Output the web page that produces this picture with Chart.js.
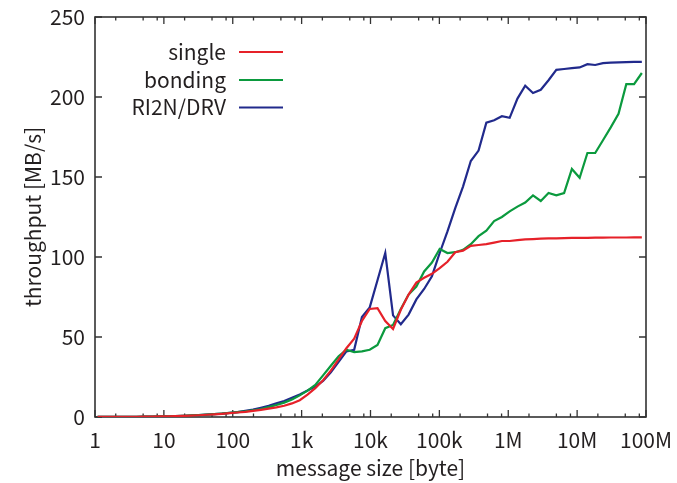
<!DOCTYPE html>
<html>
<head>
<meta charset="utf-8">
<script src="https://cdn.jsdelivr.net/npm/chart.js@4/dist/chart.umd.min.js"></script>
<style>
  html, body { margin: 0; padding: 0; background: #ffffff; }
  #wrap { width: 677px; height: 483px; }
</style>
</head>
<body>
<div id="wrap"><canvas id="chart" width="677" height="483"></canvas></div>
<script>
// message sizes in bytes (steps of 2^(3/8))
const sizes = [
  1.09, 1.41, 1.83, 2.38, 3.08, 4, 5.19, 6.73, 8.72, 11.3,
  14.7, 19.0, 24.7, 32, 41.5, 53.8, 69.8, 90.5, 117, 152,
  197, 256, 332, 430, 558, 724, 939, 1218, 1579, 2048,
  2656, 3444, 4467, 5793, 7512, 9742, 12634, 16384, 21247, 27554,
  35733, 46341, 60096, 77936, 101070, 131072, 169979, 220435, 285870, 370728,
  480774, 623487, 808567, 1048576, 1359828, 1763478, 2286954, 2965821, 3846196, 4987909,
  6468560, 8388608, 10878624, 14107823, 18295628, 23726566, 30769570, 39903275, 51748484, 67108864,
  87028994
];

// throughput [MB/s]
const single = [
  0.04, 0.05, 0.07, 0.09, 0.12, 0.15, 0.2, 0.26, 0.33, 0.43,
  0.55, 0.7, 0.9, 1.1, 1.4, 1.7, 2.0, 2.4, 2.8, 3.2,
  3.8, 4.5, 5.2, 6.0, 7.0, 8.5, 10.5, 14.0, 18.0, 23.0,
  29.0, 36.0, 43.0, 49.0, 60.0, 67.5, 68.0, 60.0, 55.0, 67.0,
  76.5, 84.0, 87.0, 89.5, 93.0, 97.0, 103.0, 104.0, 107.0, 107.5,
  108.0, 109.0, 110.0, 110.0, 110.5, 111.0, 111.2, 111.5, 111.6, 111.7,
  111.8, 111.9, 112.0, 112.0, 112.1, 112.1, 112.2, 112.2, 112.2, 112.3,
  112.3
];
const bonding = [
  0.05, 0.06, 0.08, 0.1, 0.13, 0.17, 0.22, 0.28, 0.36, 0.46,
  0.6, 0.76, 0.97, 1.2, 1.5, 1.8, 2.2, 2.6, 3.0, 3.5,
  4.2, 5.0, 6.2, 7.5, 9.0, 11.0, 13.5, 16.5, 20.0, 26.0,
  32.0, 38.0, 42.0, 40.5, 41.0, 42.0, 45.0, 55.5, 57.5, 67.5,
  76.5, 81.5, 91.0, 96.5, 105.0, 102.5, 103.0, 104.5, 108.0, 113.0,
  116.5, 122.5, 125.0, 128.5, 131.5, 134.0, 138.5, 135.0, 140.0, 138.5,
  140.0, 155.0, 149.5, 165.0, 165.0, 173.0, 181.0, 189.5, 208.0, 208.0,
  215.0
];
const ri2nDrv = [
  0.04, 0.05, 0.07, 0.09, 0.12, 0.16, 0.2, 0.26, 0.34, 0.44,
  0.57, 0.72, 0.93, 1.15, 1.45, 1.75, 2.1, 2.6, 3.1, 3.8,
  4.6, 5.8, 7.0, 8.5, 10.0, 12.0, 14.0, 16.5, 19.0, 22.5,
  28.0, 34.5, 41.0, 42.0, 62.5, 68.5, 85.5, 102.5, 63.5, 58.0,
  64.0, 73.5, 80.0, 88.0, 102.5, 116.0, 130.5, 144.0, 160.0, 166.5,
  184.0, 185.5, 188.0, 187.0, 199.0, 207.0, 202.5, 204.5, 210.5, 217.0,
  217.5, 218.0, 218.5, 220.5, 220.0, 221.2, 221.5, 221.7, 221.8, 221.9,
  222.0
];

const seriesNames = ['single', 'bonding', 'RI2N/DRV'];
const seriesColors = ['#e62129', '#0b9a3e', '#212a8c'];

const xTickValues = [1, 10, 100, 1e3, 1e4, 1e5, 1e6, 1e7, 1e8];
const xTickLabels = ['1', '10', '100', '1k', '10k', '100k', '1M', '10M', '100M'];
const xMinorFactors = [2, 5, 8];
const yTickValues = [0, 50, 100, 150, 200, 250];

const xTitle = 'message size [byte]';
const yTitle = 'throughput [MB/s]';

const FONT = '"Noto Sans CJK JP", "Noto Sans", sans-serif';
const INK = '#231f20';
const FRAME = '#333333';

function toPoints(values) {
  return values.map((v, i) => ({ x: sizes[i], y: v }));
}

const seriesValues = [single, bonding, ri2nDrv];
const datasets = seriesValues.map((vals, i) => ({
  label: seriesNames[i],
  data: toPoints(vals),
  borderColor: seriesColors[i],
  backgroundColor: seriesColors[i],
  borderWidth: 2.2,
  pointRadius: 0,
  tension: 0,
  fill: false
}));

// frame with inward ticks on all four sides
const framePlugin = {
  id: 'frame',
  beforeDatasetsDraw(chart) {
    const { ctx, chartArea: a, scales } = chart;
    const xs = scales.x, ys = scales.y;
    ctx.save();
    ctx.strokeStyle = FRAME;
    ctx.lineWidth = 1.3;
    ctx.beginPath();
    const major = 7, minor = 3.5;
    xTickValues.forEach((v) => {
      const px = xs.getPixelForValue(v);
      ctx.moveTo(px, a.bottom); ctx.lineTo(px, a.bottom - major);
      ctx.moveTo(px, a.top); ctx.lineTo(px, a.top + major);
      if (v < 1e8) {
        xMinorFactors.forEach((f) => {
          const mx = xs.getPixelForValue(v * f);
          ctx.moveTo(mx, a.bottom); ctx.lineTo(mx, a.bottom - minor);
          ctx.moveTo(mx, a.top); ctx.lineTo(mx, a.top + minor);
        });
      }
    });
    yTickValues.forEach((v) => {
      const py = ys.getPixelForValue(v);
      ctx.moveTo(a.left, py); ctx.lineTo(a.left + major, py);
      ctx.moveTo(a.right, py); ctx.lineTo(a.right - major, py);
    });
    ctx.stroke();
    ctx.lineWidth = 1.6;
    ctx.strokeRect(a.left, a.top, a.right - a.left, a.bottom - a.top);
    ctx.restore();
  }
};

// key in the upper left: right-aligned names followed by line samples
const keyPlugin = {
  id: 'key',
  afterDatasetsDraw(chart) {
    const { ctx } = chart;
    const textRight = 226, lineFrom = 239, lineTo = 283;
    const rows = [52, 80, 107.5];
    ctx.save();
    ctx.font = '21px ' + FONT;
    ctx.textAlign = 'right';
    ctx.textBaseline = 'middle';
    chart.data.datasets.forEach((ds, i) => {
      ctx.fillStyle = INK;
      ctx.fillText(ds.label, textRight, rows[i]);
      ctx.strokeStyle = ds.borderColor;
      ctx.lineWidth = 2.2;
      ctx.beginPath();
      ctx.moveTo(lineFrom, rows[i]);
      ctx.lineTo(lineTo, rows[i]);
      ctx.stroke();
    });
    ctx.restore();
  }
};

new Chart(document.getElementById('chart'), {
  type: 'line',
  data: { datasets },
  options: {
    responsive: false,
    animation: false,
    devicePixelRatio: 1,
    layout: { padding: { top: 17, right: 31, left: 0, bottom: 0 } },
    plugins: { legend: { display: false }, tooltip: { enabled: false } },
    scales: {
      x: {
        type: 'logarithmic',
        min: 1,
        max: 1e8,
        grid: { display: false, drawTicks: false },
        border: { display: false },
        afterBuildTicks(scale) {
          scale.ticks = xTickValues.map((v) => ({ value: v, major: true }));
        },
        afterFit(scale) {
          scale.height = 66;
          scale.paddingLeft = 0;
          scale.paddingRight = 0;
        },
        ticks: {
          autoSkip: false,
          maxRotation: 0,
          padding: 10,
          color: INK,
          font: { family: FONT, size: 21 },
          callback(value) {
            const k = xTickValues.indexOf(value);
            return k >= 0 ? xTickLabels[k] : '';
          }
        },
        title: {
          display: true,
          text: xTitle,
          color: INK,
          font: { family: FONT, size: 21 },
          padding: { top: 0, bottom: 2 }
        }
      },
      y: {
        type: 'linear',
        min: 0,
        max: 250,
        grid: { display: false, drawTicks: false },
        border: { display: false },
        afterBuildTicks(scale) {
          scale.ticks = yTickValues.map((v) => ({ value: v }));
        },
        afterFit(scale) {
          scale.width = 95;
          scale.paddingTop = 0;
          scale.paddingBottom = 0;
        },
        ticks: {
          padding: 10,
          color: INK,
          font: { family: FONT, size: 21 }
        },
        title: {
          display: true,
          text: yTitle,
          color: INK,
          font: { family: FONT, size: 21 },
          padding: { top: 20, bottom: 0 }
        }
      }
    }
  },
  plugins: [framePlugin, keyPlugin]
});
</script>
</body>
</html>
